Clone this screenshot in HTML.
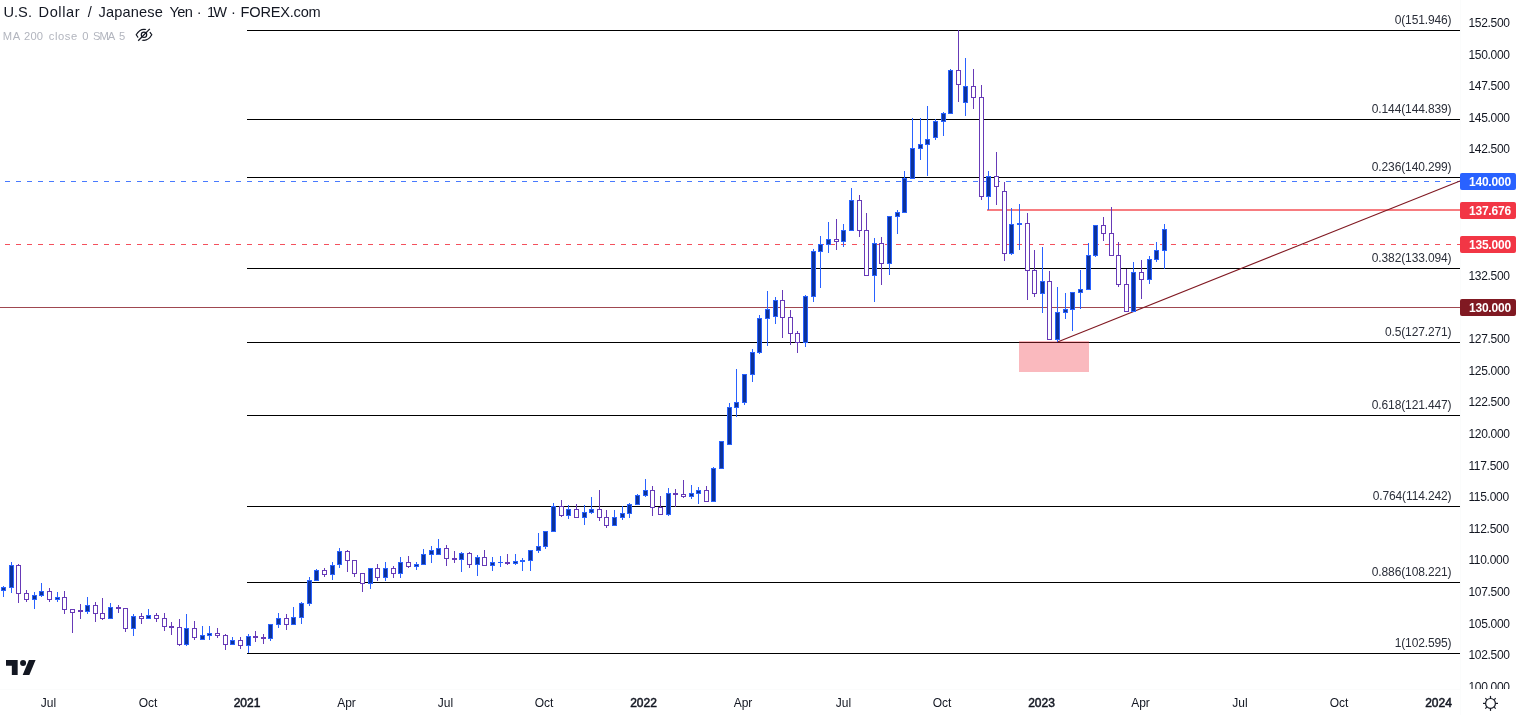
<!DOCTYPE html>
<html lang="en"><head><meta charset="utf-8"><title>USDJPY Weekly</title>
<style>
html,body{margin:0;padding:0;background:#fff;}
body{width:1518px;height:715px;overflow:hidden;position:relative;font-family:"Liberation Sans",sans-serif;}
svg{position:absolute;left:0;top:0;display:block;will-change:transform;}
text{font-family:"Liberation Sans",sans-serif;}
.ax{font-size:12px;fill:#131722;letter-spacing:-0.3px;}
.fb{font-size:12px;fill:#2a2e39;letter-spacing:-0.12px;}
.bx{font-size:12px;fill:#fff;font-weight:bold;letter-spacing:-0.22px;}
.tm{font-size:12px;fill:#131722;}
.tb{font-size:12px;fill:#131722;stroke:#131722;stroke-width:0.5px;}
</style></head><body>
<svg width="1518" height="715" viewBox="0 0 1518 715">
<rect x="0" y="0" width="1518" height="715" fill="#ffffff"/>
<rect x="1460" y="0" width="1" height="715" fill="#fbfcfc"/><rect x="0" y="689" width="1518" height="1" fill="#fbfcfc"/>
<g shape-rendering="crispEdges">
<rect x="247" y="30" width="1213" height="1" fill="#000"/>
<rect x="247" y="119" width="1213" height="1" fill="#000"/>
<rect x="247" y="177" width="1213" height="1" fill="#000"/>
<rect x="247" y="268" width="1213" height="1" fill="#000"/>
<rect x="247" y="342" width="1213" height="1" fill="#000"/>
<rect x="247" y="415" width="1213" height="1" fill="#000"/>
<rect x="247" y="506" width="1213" height="1" fill="#000"/>
<rect x="247" y="582" width="1213" height="1" fill="#000"/>
<rect x="247" y="653" width="1213" height="1" fill="#000"/>
<rect x="5" y="181" width="5" height="1" fill="#487aff"/><rect x="16" y="181" width="5" height="1" fill="#487aff"/><rect x="27" y="181" width="5" height="1" fill="#487aff"/><rect x="38" y="181" width="5" height="1" fill="#487aff"/><rect x="49" y="181" width="5" height="1" fill="#487aff"/><rect x="60" y="181" width="5" height="1" fill="#487aff"/><rect x="71" y="181" width="5" height="1" fill="#487aff"/><rect x="82" y="181" width="5" height="1" fill="#487aff"/><rect x="93" y="181" width="5" height="1" fill="#487aff"/><rect x="104" y="181" width="5" height="1" fill="#487aff"/><rect x="115" y="181" width="5" height="1" fill="#487aff"/><rect x="126" y="181" width="5" height="1" fill="#487aff"/><rect x="137" y="181" width="5" height="1" fill="#487aff"/><rect x="148" y="181" width="5" height="1" fill="#487aff"/><rect x="159" y="181" width="5" height="1" fill="#487aff"/><rect x="170" y="181" width="5" height="1" fill="#487aff"/><rect x="181" y="181" width="5" height="1" fill="#487aff"/><rect x="192" y="181" width="5" height="1" fill="#487aff"/><rect x="203" y="181" width="5" height="1" fill="#487aff"/><rect x="214" y="181" width="5" height="1" fill="#487aff"/><rect x="225" y="181" width="5" height="1" fill="#487aff"/><rect x="236" y="181" width="5" height="1" fill="#487aff"/><rect x="247" y="181" width="5" height="1" fill="#487aff"/><rect x="258" y="181" width="5" height="1" fill="#487aff"/><rect x="269" y="181" width="5" height="1" fill="#487aff"/><rect x="280" y="181" width="5" height="1" fill="#487aff"/><rect x="291" y="181" width="5" height="1" fill="#487aff"/><rect x="302" y="181" width="5" height="1" fill="#487aff"/><rect x="313" y="181" width="5" height="1" fill="#487aff"/><rect x="324" y="181" width="5" height="1" fill="#487aff"/><rect x="335" y="181" width="5" height="1" fill="#487aff"/><rect x="346" y="181" width="5" height="1" fill="#487aff"/><rect x="357" y="181" width="5" height="1" fill="#487aff"/><rect x="368" y="181" width="5" height="1" fill="#487aff"/><rect x="379" y="181" width="5" height="1" fill="#487aff"/><rect x="390" y="181" width="5" height="1" fill="#487aff"/><rect x="401" y="181" width="5" height="1" fill="#487aff"/><rect x="412" y="181" width="5" height="1" fill="#487aff"/><rect x="423" y="181" width="5" height="1" fill="#487aff"/><rect x="434" y="181" width="5" height="1" fill="#487aff"/><rect x="445" y="181" width="5" height="1" fill="#487aff"/><rect x="456" y="181" width="5" height="1" fill="#487aff"/><rect x="467" y="181" width="5" height="1" fill="#487aff"/><rect x="478" y="181" width="5" height="1" fill="#487aff"/><rect x="489" y="181" width="5" height="1" fill="#487aff"/><rect x="500" y="181" width="5" height="1" fill="#487aff"/><rect x="511" y="181" width="5" height="1" fill="#487aff"/><rect x="522" y="181" width="5" height="1" fill="#487aff"/><rect x="533" y="181" width="5" height="1" fill="#487aff"/><rect x="544" y="181" width="5" height="1" fill="#487aff"/><rect x="555" y="181" width="5" height="1" fill="#487aff"/><rect x="566" y="181" width="5" height="1" fill="#487aff"/><rect x="577" y="181" width="5" height="1" fill="#487aff"/><rect x="588" y="181" width="5" height="1" fill="#487aff"/><rect x="599" y="181" width="5" height="1" fill="#487aff"/><rect x="610" y="181" width="5" height="1" fill="#487aff"/><rect x="621" y="181" width="5" height="1" fill="#487aff"/><rect x="632" y="181" width="5" height="1" fill="#487aff"/><rect x="643" y="181" width="5" height="1" fill="#487aff"/><rect x="654" y="181" width="5" height="1" fill="#487aff"/><rect x="665" y="181" width="5" height="1" fill="#487aff"/><rect x="676" y="181" width="5" height="1" fill="#487aff"/><rect x="687" y="181" width="5" height="1" fill="#487aff"/><rect x="698" y="181" width="5" height="1" fill="#487aff"/><rect x="709" y="181" width="5" height="1" fill="#487aff"/><rect x="720" y="181" width="5" height="1" fill="#487aff"/><rect x="731" y="181" width="5" height="1" fill="#487aff"/><rect x="742" y="181" width="5" height="1" fill="#487aff"/><rect x="753" y="181" width="5" height="1" fill="#487aff"/><rect x="764" y="181" width="5" height="1" fill="#487aff"/><rect x="775" y="181" width="5" height="1" fill="#487aff"/><rect x="786" y="181" width="5" height="1" fill="#487aff"/><rect x="797" y="181" width="5" height="1" fill="#487aff"/><rect x="808" y="181" width="5" height="1" fill="#487aff"/><rect x="819" y="181" width="5" height="1" fill="#487aff"/><rect x="830" y="181" width="5" height="1" fill="#487aff"/><rect x="841" y="181" width="5" height="1" fill="#487aff"/><rect x="852" y="181" width="5" height="1" fill="#487aff"/><rect x="863" y="181" width="5" height="1" fill="#487aff"/><rect x="874" y="181" width="5" height="1" fill="#487aff"/><rect x="885" y="181" width="5" height="1" fill="#487aff"/><rect x="896" y="181" width="5" height="1" fill="#487aff"/><rect x="907" y="181" width="5" height="1" fill="#487aff"/><rect x="918" y="181" width="5" height="1" fill="#487aff"/><rect x="929" y="181" width="5" height="1" fill="#487aff"/><rect x="940" y="181" width="5" height="1" fill="#487aff"/><rect x="951" y="181" width="5" height="1" fill="#487aff"/><rect x="962" y="181" width="5" height="1" fill="#487aff"/><rect x="973" y="181" width="5" height="1" fill="#487aff"/><rect x="984" y="181" width="5" height="1" fill="#487aff"/><rect x="995" y="181" width="5" height="1" fill="#487aff"/><rect x="1006" y="181" width="5" height="1" fill="#487aff"/><rect x="1017" y="181" width="5" height="1" fill="#487aff"/><rect x="1028" y="181" width="5" height="1" fill="#487aff"/><rect x="1039" y="181" width="5" height="1" fill="#487aff"/><rect x="1050" y="181" width="5" height="1" fill="#487aff"/><rect x="1061" y="181" width="5" height="1" fill="#487aff"/><rect x="1072" y="181" width="5" height="1" fill="#487aff"/><rect x="1083" y="181" width="5" height="1" fill="#487aff"/><rect x="1094" y="181" width="5" height="1" fill="#487aff"/><rect x="1105" y="181" width="5" height="1" fill="#487aff"/><rect x="1116" y="181" width="5" height="1" fill="#487aff"/><rect x="1127" y="181" width="5" height="1" fill="#487aff"/><rect x="1138" y="181" width="5" height="1" fill="#487aff"/><rect x="1149" y="181" width="5" height="1" fill="#487aff"/><rect x="1160" y="181" width="5" height="1" fill="#487aff"/><rect x="1171" y="181" width="5" height="1" fill="#487aff"/><rect x="1182" y="181" width="5" height="1" fill="#487aff"/><rect x="1193" y="181" width="5" height="1" fill="#487aff"/><rect x="1204" y="181" width="5" height="1" fill="#487aff"/><rect x="1215" y="181" width="5" height="1" fill="#487aff"/><rect x="1226" y="181" width="5" height="1" fill="#487aff"/><rect x="1237" y="181" width="5" height="1" fill="#487aff"/><rect x="1248" y="181" width="5" height="1" fill="#487aff"/><rect x="1259" y="181" width="5" height="1" fill="#487aff"/><rect x="1270" y="181" width="5" height="1" fill="#487aff"/><rect x="1281" y="181" width="5" height="1" fill="#487aff"/><rect x="1292" y="181" width="5" height="1" fill="#487aff"/><rect x="1303" y="181" width="5" height="1" fill="#487aff"/><rect x="1314" y="181" width="5" height="1" fill="#487aff"/><rect x="1325" y="181" width="5" height="1" fill="#487aff"/><rect x="1336" y="181" width="5" height="1" fill="#487aff"/><rect x="1347" y="181" width="5" height="1" fill="#487aff"/><rect x="1358" y="181" width="5" height="1" fill="#487aff"/><rect x="1369" y="181" width="5" height="1" fill="#487aff"/><rect x="1380" y="181" width="5" height="1" fill="#487aff"/><rect x="1391" y="181" width="5" height="1" fill="#487aff"/><rect x="1402" y="181" width="5" height="1" fill="#487aff"/><rect x="1413" y="181" width="5" height="1" fill="#487aff"/><rect x="1424" y="181" width="5" height="1" fill="#487aff"/><rect x="1435" y="181" width="5" height="1" fill="#487aff"/><rect x="1446" y="181" width="5" height="1" fill="#487aff"/><rect x="1457" y="181" width="3" height="1" fill="#487aff"/>
<rect x="5" y="244" width="5" height="1" fill="#f4505d"/><rect x="16" y="244" width="5" height="1" fill="#f4505d"/><rect x="27" y="244" width="5" height="1" fill="#f4505d"/><rect x="38" y="244" width="5" height="1" fill="#f4505d"/><rect x="49" y="244" width="5" height="1" fill="#f4505d"/><rect x="60" y="244" width="5" height="1" fill="#f4505d"/><rect x="71" y="244" width="5" height="1" fill="#f4505d"/><rect x="82" y="244" width="5" height="1" fill="#f4505d"/><rect x="93" y="244" width="5" height="1" fill="#f4505d"/><rect x="104" y="244" width="5" height="1" fill="#f4505d"/><rect x="115" y="244" width="5" height="1" fill="#f4505d"/><rect x="126" y="244" width="5" height="1" fill="#f4505d"/><rect x="137" y="244" width="5" height="1" fill="#f4505d"/><rect x="148" y="244" width="5" height="1" fill="#f4505d"/><rect x="159" y="244" width="5" height="1" fill="#f4505d"/><rect x="170" y="244" width="5" height="1" fill="#f4505d"/><rect x="181" y="244" width="5" height="1" fill="#f4505d"/><rect x="192" y="244" width="5" height="1" fill="#f4505d"/><rect x="203" y="244" width="5" height="1" fill="#f4505d"/><rect x="214" y="244" width="5" height="1" fill="#f4505d"/><rect x="225" y="244" width="5" height="1" fill="#f4505d"/><rect x="236" y="244" width="5" height="1" fill="#f4505d"/><rect x="247" y="244" width="5" height="1" fill="#f4505d"/><rect x="258" y="244" width="5" height="1" fill="#f4505d"/><rect x="269" y="244" width="5" height="1" fill="#f4505d"/><rect x="280" y="244" width="5" height="1" fill="#f4505d"/><rect x="291" y="244" width="5" height="1" fill="#f4505d"/><rect x="302" y="244" width="5" height="1" fill="#f4505d"/><rect x="313" y="244" width="5" height="1" fill="#f4505d"/><rect x="324" y="244" width="5" height="1" fill="#f4505d"/><rect x="335" y="244" width="5" height="1" fill="#f4505d"/><rect x="346" y="244" width="5" height="1" fill="#f4505d"/><rect x="357" y="244" width="5" height="1" fill="#f4505d"/><rect x="368" y="244" width="5" height="1" fill="#f4505d"/><rect x="379" y="244" width="5" height="1" fill="#f4505d"/><rect x="390" y="244" width="5" height="1" fill="#f4505d"/><rect x="401" y="244" width="5" height="1" fill="#f4505d"/><rect x="412" y="244" width="5" height="1" fill="#f4505d"/><rect x="423" y="244" width="5" height="1" fill="#f4505d"/><rect x="434" y="244" width="5" height="1" fill="#f4505d"/><rect x="445" y="244" width="5" height="1" fill="#f4505d"/><rect x="456" y="244" width="5" height="1" fill="#f4505d"/><rect x="467" y="244" width="5" height="1" fill="#f4505d"/><rect x="478" y="244" width="5" height="1" fill="#f4505d"/><rect x="489" y="244" width="5" height="1" fill="#f4505d"/><rect x="500" y="244" width="5" height="1" fill="#f4505d"/><rect x="511" y="244" width="5" height="1" fill="#f4505d"/><rect x="522" y="244" width="5" height="1" fill="#f4505d"/><rect x="533" y="244" width="5" height="1" fill="#f4505d"/><rect x="544" y="244" width="5" height="1" fill="#f4505d"/><rect x="555" y="244" width="5" height="1" fill="#f4505d"/><rect x="566" y="244" width="5" height="1" fill="#f4505d"/><rect x="577" y="244" width="5" height="1" fill="#f4505d"/><rect x="588" y="244" width="5" height="1" fill="#f4505d"/><rect x="599" y="244" width="5" height="1" fill="#f4505d"/><rect x="610" y="244" width="5" height="1" fill="#f4505d"/><rect x="621" y="244" width="5" height="1" fill="#f4505d"/><rect x="632" y="244" width="5" height="1" fill="#f4505d"/><rect x="643" y="244" width="5" height="1" fill="#f4505d"/><rect x="654" y="244" width="5" height="1" fill="#f4505d"/><rect x="665" y="244" width="5" height="1" fill="#f4505d"/><rect x="676" y="244" width="5" height="1" fill="#f4505d"/><rect x="687" y="244" width="5" height="1" fill="#f4505d"/><rect x="698" y="244" width="5" height="1" fill="#f4505d"/><rect x="709" y="244" width="5" height="1" fill="#f4505d"/><rect x="720" y="244" width="5" height="1" fill="#f4505d"/><rect x="731" y="244" width="5" height="1" fill="#f4505d"/><rect x="742" y="244" width="5" height="1" fill="#f4505d"/><rect x="753" y="244" width="5" height="1" fill="#f4505d"/><rect x="764" y="244" width="5" height="1" fill="#f4505d"/><rect x="775" y="244" width="5" height="1" fill="#f4505d"/><rect x="786" y="244" width="5" height="1" fill="#f4505d"/><rect x="797" y="244" width="5" height="1" fill="#f4505d"/><rect x="808" y="244" width="5" height="1" fill="#f4505d"/><rect x="819" y="244" width="5" height="1" fill="#f4505d"/><rect x="830" y="244" width="5" height="1" fill="#f4505d"/><rect x="841" y="244" width="5" height="1" fill="#f4505d"/><rect x="852" y="244" width="5" height="1" fill="#f4505d"/><rect x="863" y="244" width="5" height="1" fill="#f4505d"/><rect x="874" y="244" width="5" height="1" fill="#f4505d"/><rect x="885" y="244" width="5" height="1" fill="#f4505d"/><rect x="896" y="244" width="5" height="1" fill="#f4505d"/><rect x="907" y="244" width="5" height="1" fill="#f4505d"/><rect x="918" y="244" width="5" height="1" fill="#f4505d"/><rect x="929" y="244" width="5" height="1" fill="#f4505d"/><rect x="940" y="244" width="5" height="1" fill="#f4505d"/><rect x="951" y="244" width="5" height="1" fill="#f4505d"/><rect x="962" y="244" width="5" height="1" fill="#f4505d"/><rect x="973" y="244" width="5" height="1" fill="#f4505d"/><rect x="984" y="244" width="5" height="1" fill="#f4505d"/><rect x="995" y="244" width="5" height="1" fill="#f4505d"/><rect x="1006" y="244" width="5" height="1" fill="#f4505d"/><rect x="1017" y="244" width="5" height="1" fill="#f4505d"/><rect x="1028" y="244" width="5" height="1" fill="#f4505d"/><rect x="1039" y="244" width="5" height="1" fill="#f4505d"/><rect x="1050" y="244" width="5" height="1" fill="#f4505d"/><rect x="1061" y="244" width="5" height="1" fill="#f4505d"/><rect x="1072" y="244" width="5" height="1" fill="#f4505d"/><rect x="1083" y="244" width="5" height="1" fill="#f4505d"/><rect x="1094" y="244" width="5" height="1" fill="#f4505d"/><rect x="1105" y="244" width="5" height="1" fill="#f4505d"/><rect x="1116" y="244" width="5" height="1" fill="#f4505d"/><rect x="1127" y="244" width="5" height="1" fill="#f4505d"/><rect x="1138" y="244" width="5" height="1" fill="#f4505d"/><rect x="1149" y="244" width="5" height="1" fill="#f4505d"/><rect x="1160" y="244" width="5" height="1" fill="#f4505d"/><rect x="1171" y="244" width="5" height="1" fill="#f4505d"/><rect x="1182" y="244" width="5" height="1" fill="#f4505d"/><rect x="1193" y="244" width="5" height="1" fill="#f4505d"/><rect x="1204" y="244" width="5" height="1" fill="#f4505d"/><rect x="1215" y="244" width="5" height="1" fill="#f4505d"/><rect x="1226" y="244" width="5" height="1" fill="#f4505d"/><rect x="1237" y="244" width="5" height="1" fill="#f4505d"/><rect x="1248" y="244" width="5" height="1" fill="#f4505d"/><rect x="1259" y="244" width="5" height="1" fill="#f4505d"/><rect x="1270" y="244" width="5" height="1" fill="#f4505d"/><rect x="1281" y="244" width="5" height="1" fill="#f4505d"/><rect x="1292" y="244" width="5" height="1" fill="#f4505d"/><rect x="1303" y="244" width="5" height="1" fill="#f4505d"/><rect x="1314" y="244" width="5" height="1" fill="#f4505d"/><rect x="1325" y="244" width="5" height="1" fill="#f4505d"/><rect x="1336" y="244" width="5" height="1" fill="#f4505d"/><rect x="1347" y="244" width="5" height="1" fill="#f4505d"/><rect x="1358" y="244" width="5" height="1" fill="#f4505d"/><rect x="1369" y="244" width="5" height="1" fill="#f4505d"/><rect x="1380" y="244" width="5" height="1" fill="#f4505d"/><rect x="1391" y="244" width="5" height="1" fill="#f4505d"/><rect x="1402" y="244" width="5" height="1" fill="#f4505d"/><rect x="1413" y="244" width="5" height="1" fill="#f4505d"/><rect x="1424" y="244" width="5" height="1" fill="#f4505d"/><rect x="1435" y="244" width="5" height="1" fill="#f4505d"/><rect x="1446" y="244" width="5" height="1" fill="#f4505d"/><rect x="1457" y="244" width="3" height="1" fill="#f4505d"/>
<rect x="0" y="307" width="1460" height="1" fill="#9f4850"/>
<rect x="987" y="209" width="473" height="2" fill="#f77c80"/>
<rect x="1019" y="341" width="70" height="31" fill="#f23645" fill-opacity="0.35"/>
</g>
<line x1="1057.5" y1="341.9" x2="1460" y2="180.9" stroke="#801922" stroke-width="1.1"/>
<g shape-rendering="crispEdges">
<rect x="3" y="586" width="1" height="1" fill="#2962ff"/>
<rect x="3" y="591" width="1" height="6" fill="#2962ff"/>
<rect x="1" y="587" width="5" height="4" fill="#2962ff"/>
<rect x="2" y="588" width="3" height="2" fill="#0c3299"/>
<rect x="11" y="562" width="1" height="3" fill="#2962ff"/>
<rect x="11" y="588" width="1" height="5" fill="#2962ff"/>
<rect x="9" y="565" width="5" height="23" fill="#2962ff"/>
<rect x="10" y="566" width="3" height="21" fill="#0c3299"/>
<rect x="18" y="564" width="1" height="1" fill="#673ab7"/>
<rect x="18" y="594" width="1" height="9" fill="#673ab7"/>
<rect x="16" y="565" width="5" height="29" fill="#673ab7"/>
<rect x="17" y="566" width="3" height="27" fill="#ffffff"/>
<rect x="26" y="590" width="1" height="3" fill="#673ab7"/>
<rect x="26" y="600" width="1" height="2" fill="#673ab7"/>
<rect x="24" y="593" width="5" height="7" fill="#673ab7"/>
<rect x="25" y="594" width="3" height="5" fill="#ffffff"/>
<rect x="34" y="592" width="1" height="3" fill="#2962ff"/>
<rect x="34" y="600" width="1" height="9" fill="#2962ff"/>
<rect x="32" y="595" width="5" height="5" fill="#2962ff"/>
<rect x="33" y="596" width="3" height="3" fill="#0c3299"/>
<rect x="41" y="583" width="1" height="8" fill="#2962ff"/>
<rect x="41" y="596" width="1" height="1" fill="#2962ff"/>
<rect x="39" y="591" width="5" height="5" fill="#2962ff"/>
<rect x="40" y="592" width="3" height="3" fill="#0c3299"/>
<rect x="49" y="588" width="1" height="3" fill="#673ab7"/>
<rect x="49" y="600" width="1" height="2" fill="#673ab7"/>
<rect x="47" y="591" width="5" height="9" fill="#673ab7"/>
<rect x="48" y="592" width="3" height="7" fill="#ffffff"/>
<rect x="57" y="592" width="1" height="5" fill="#2962ff"/>
<rect x="57" y="600" width="1" height="2" fill="#2962ff"/>
<rect x="55" y="597" width="5" height="3" fill="#2962ff"/>
<rect x="56" y="598" width="3" height="1" fill="#0c3299"/>
<rect x="64" y="591" width="1" height="6" fill="#673ab7"/>
<rect x="64" y="610" width="1" height="4" fill="#673ab7"/>
<rect x="62" y="597" width="5" height="13" fill="#673ab7"/>
<rect x="63" y="598" width="3" height="11" fill="#ffffff"/>
<rect x="72" y="613" width="1" height="20" fill="#673ab7"/>
<rect x="70" y="609" width="5" height="4" fill="#673ab7"/>
<rect x="71" y="610" width="3" height="2" fill="#ffffff"/>
<rect x="80" y="604" width="1" height="6" fill="#673ab7"/>
<rect x="80" y="612" width="1" height="7" fill="#673ab7"/>
<rect x="78" y="610" width="5" height="2" fill="#673ab7"/>
<rect x="87" y="597" width="1" height="8" fill="#2962ff"/>
<rect x="87" y="612" width="1" height="2" fill="#2962ff"/>
<rect x="85" y="605" width="5" height="7" fill="#2962ff"/>
<rect x="86" y="606" width="3" height="5" fill="#0c3299"/>
<rect x="95" y="602" width="1" height="3" fill="#673ab7"/>
<rect x="95" y="614" width="1" height="8" fill="#673ab7"/>
<rect x="93" y="605" width="5" height="9" fill="#673ab7"/>
<rect x="94" y="606" width="3" height="7" fill="#ffffff"/>
<rect x="102" y="598" width="1" height="15" fill="#673ab7"/>
<rect x="102" y="619" width="1" height="1" fill="#673ab7"/>
<rect x="100" y="613" width="5" height="6" fill="#673ab7"/>
<rect x="101" y="614" width="3" height="4" fill="#ffffff"/>
<rect x="110" y="603" width="1" height="4" fill="#2962ff"/>
<rect x="108" y="607" width="5" height="12" fill="#2962ff"/>
<rect x="109" y="608" width="3" height="10" fill="#0c3299"/>
<rect x="118" y="605" width="1" height="2" fill="#673ab7"/>
<rect x="118" y="609" width="1" height="4" fill="#673ab7"/>
<rect x="116" y="607" width="5" height="2" fill="#673ab7"/>
<rect x="125" y="629" width="1" height="3" fill="#673ab7"/>
<rect x="123" y="608" width="5" height="21" fill="#673ab7"/>
<rect x="124" y="609" width="3" height="19" fill="#ffffff"/>
<rect x="133" y="614" width="1" height="2" fill="#2962ff"/>
<rect x="133" y="629" width="1" height="7" fill="#2962ff"/>
<rect x="131" y="616" width="5" height="13" fill="#2962ff"/>
<rect x="132" y="617" width="3" height="11" fill="#0c3299"/>
<rect x="141" y="613" width="1" height="3" fill="#673ab7"/>
<rect x="141" y="619" width="1" height="5" fill="#673ab7"/>
<rect x="139" y="616" width="5" height="3" fill="#673ab7"/>
<rect x="140" y="617" width="3" height="1" fill="#ffffff"/>
<rect x="148" y="609" width="1" height="6" fill="#2962ff"/>
<rect x="146" y="615" width="5" height="4" fill="#2962ff"/>
<rect x="147" y="616" width="3" height="2" fill="#0c3299"/>
<rect x="156" y="613" width="1" height="2" fill="#673ab7"/>
<rect x="156" y="619" width="1" height="3" fill="#673ab7"/>
<rect x="154" y="615" width="5" height="4" fill="#673ab7"/>
<rect x="155" y="616" width="3" height="2" fill="#ffffff"/>
<rect x="164" y="613" width="1" height="5" fill="#673ab7"/>
<rect x="164" y="627" width="1" height="4" fill="#673ab7"/>
<rect x="162" y="618" width="5" height="9" fill="#673ab7"/>
<rect x="163" y="619" width="3" height="7" fill="#ffffff"/>
<rect x="171" y="622" width="1" height="4" fill="#673ab7"/>
<rect x="171" y="628" width="1" height="7" fill="#673ab7"/>
<rect x="169" y="626" width="5" height="2" fill="#673ab7"/>
<rect x="179" y="619" width="1" height="8" fill="#673ab7"/>
<rect x="179" y="645" width="1" height="1" fill="#673ab7"/>
<rect x="177" y="627" width="5" height="18" fill="#673ab7"/>
<rect x="178" y="628" width="3" height="16" fill="#ffffff"/>
<rect x="186" y="614" width="1" height="14" fill="#2962ff"/>
<rect x="186" y="645" width="1" height="1" fill="#2962ff"/>
<rect x="184" y="628" width="5" height="17" fill="#2962ff"/>
<rect x="185" y="629" width="3" height="15" fill="#0c3299"/>
<rect x="194" y="621" width="1" height="7" fill="#673ab7"/>
<rect x="194" y="638" width="1" height="2" fill="#673ab7"/>
<rect x="192" y="628" width="5" height="10" fill="#673ab7"/>
<rect x="193" y="629" width="3" height="8" fill="#ffffff"/>
<rect x="202" y="626" width="1" height="9" fill="#2962ff"/>
<rect x="200" y="635" width="5" height="5" fill="#2962ff"/>
<rect x="201" y="636" width="3" height="3" fill="#0c3299"/>
<rect x="209" y="626" width="1" height="7" fill="#2962ff"/>
<rect x="209" y="636" width="1" height="4" fill="#2962ff"/>
<rect x="207" y="633" width="5" height="3" fill="#2962ff"/>
<rect x="208" y="634" width="3" height="1" fill="#0c3299"/>
<rect x="217" y="628" width="1" height="5" fill="#673ab7"/>
<rect x="217" y="636" width="1" height="2" fill="#673ab7"/>
<rect x="215" y="633" width="5" height="3" fill="#673ab7"/>
<rect x="216" y="634" width="3" height="1" fill="#ffffff"/>
<rect x="225" y="634" width="1" height="1" fill="#673ab7"/>
<rect x="225" y="645" width="1" height="5" fill="#673ab7"/>
<rect x="223" y="635" width="5" height="10" fill="#673ab7"/>
<rect x="224" y="636" width="3" height="8" fill="#ffffff"/>
<rect x="232" y="637" width="1" height="3" fill="#2962ff"/>
<rect x="230" y="640" width="5" height="5" fill="#2962ff"/>
<rect x="231" y="641" width="3" height="3" fill="#0c3299"/>
<rect x="240" y="637" width="1" height="3" fill="#673ab7"/>
<rect x="240" y="646" width="1" height="3" fill="#673ab7"/>
<rect x="238" y="640" width="5" height="6" fill="#673ab7"/>
<rect x="239" y="641" width="3" height="4" fill="#ffffff"/>
<rect x="248" y="634" width="1" height="2" fill="#2962ff"/>
<rect x="248" y="646" width="1" height="7" fill="#2962ff"/>
<rect x="246" y="636" width="5" height="10" fill="#2962ff"/>
<rect x="247" y="637" width="3" height="8" fill="#0c3299"/>
<rect x="255" y="631" width="1" height="5" fill="#673ab7"/>
<rect x="255" y="638" width="1" height="4" fill="#673ab7"/>
<rect x="253" y="636" width="5" height="2" fill="#673ab7"/>
<rect x="263" y="634" width="1" height="3" fill="#673ab7"/>
<rect x="263" y="639" width="1" height="5" fill="#673ab7"/>
<rect x="261" y="637" width="5" height="2" fill="#673ab7"/>
<rect x="270" y="639" width="1" height="2" fill="#2962ff"/>
<rect x="268" y="624" width="5" height="15" fill="#2962ff"/>
<rect x="269" y="625" width="3" height="13" fill="#0c3299"/>
<rect x="278" y="613" width="1" height="5" fill="#2962ff"/>
<rect x="278" y="625" width="1" height="3" fill="#2962ff"/>
<rect x="276" y="618" width="5" height="7" fill="#2962ff"/>
<rect x="277" y="619" width="3" height="5" fill="#0c3299"/>
<rect x="286" y="614" width="1" height="4" fill="#673ab7"/>
<rect x="286" y="625" width="1" height="5" fill="#673ab7"/>
<rect x="284" y="618" width="5" height="7" fill="#673ab7"/>
<rect x="285" y="619" width="3" height="5" fill="#ffffff"/>
<rect x="293" y="607" width="1" height="10" fill="#2962ff"/>
<rect x="291" y="617" width="5" height="8" fill="#2962ff"/>
<rect x="292" y="618" width="3" height="6" fill="#0c3299"/>
<rect x="301" y="602" width="1" height="1" fill="#2962ff"/>
<rect x="301" y="618" width="1" height="6" fill="#2962ff"/>
<rect x="299" y="603" width="5" height="15" fill="#2962ff"/>
<rect x="300" y="604" width="3" height="13" fill="#0c3299"/>
<rect x="309" y="577" width="1" height="3" fill="#2962ff"/>
<rect x="309" y="604" width="1" height="2" fill="#2962ff"/>
<rect x="307" y="580" width="5" height="24" fill="#2962ff"/>
<rect x="308" y="581" width="3" height="22" fill="#0c3299"/>
<rect x="316" y="569" width="1" height="1" fill="#2962ff"/>
<rect x="314" y="570" width="5" height="11" fill="#2962ff"/>
<rect x="315" y="571" width="3" height="9" fill="#0c3299"/>
<rect x="324" y="568" width="1" height="2" fill="#673ab7"/>
<rect x="324" y="575" width="1" height="2" fill="#673ab7"/>
<rect x="322" y="570" width="5" height="5" fill="#673ab7"/>
<rect x="323" y="571" width="3" height="3" fill="#ffffff"/>
<rect x="332" y="562" width="1" height="3" fill="#2962ff"/>
<rect x="332" y="575" width="1" height="5" fill="#2962ff"/>
<rect x="330" y="565" width="5" height="10" fill="#2962ff"/>
<rect x="331" y="566" width="3" height="8" fill="#0c3299"/>
<rect x="339" y="548" width="1" height="3" fill="#2962ff"/>
<rect x="339" y="565" width="1" height="3" fill="#2962ff"/>
<rect x="337" y="551" width="5" height="14" fill="#2962ff"/>
<rect x="338" y="552" width="3" height="12" fill="#0c3299"/>
<rect x="347" y="550" width="1" height="1" fill="#673ab7"/>
<rect x="347" y="561" width="1" height="11" fill="#673ab7"/>
<rect x="345" y="551" width="5" height="10" fill="#673ab7"/>
<rect x="346" y="552" width="3" height="8" fill="#ffffff"/>
<rect x="354" y="574" width="1" height="3" fill="#673ab7"/>
<rect x="352" y="560" width="5" height="14" fill="#673ab7"/>
<rect x="353" y="561" width="3" height="12" fill="#ffffff"/>
<rect x="362" y="584" width="1" height="8" fill="#673ab7"/>
<rect x="360" y="573" width="5" height="11" fill="#673ab7"/>
<rect x="361" y="574" width="3" height="9" fill="#ffffff"/>
<rect x="370" y="584" width="1" height="5" fill="#2962ff"/>
<rect x="368" y="568" width="5" height="16" fill="#2962ff"/>
<rect x="369" y="569" width="3" height="14" fill="#0c3299"/>
<rect x="377" y="564" width="1" height="4" fill="#673ab7"/>
<rect x="377" y="578" width="1" height="3" fill="#673ab7"/>
<rect x="375" y="568" width="5" height="10" fill="#673ab7"/>
<rect x="376" y="569" width="3" height="8" fill="#ffffff"/>
<rect x="385" y="562" width="1" height="6" fill="#2962ff"/>
<rect x="385" y="578" width="1" height="3" fill="#2962ff"/>
<rect x="383" y="568" width="5" height="10" fill="#2962ff"/>
<rect x="384" y="569" width="3" height="8" fill="#0c3299"/>
<rect x="393" y="566" width="1" height="2" fill="#673ab7"/>
<rect x="393" y="574" width="1" height="4" fill="#673ab7"/>
<rect x="391" y="568" width="5" height="6" fill="#673ab7"/>
<rect x="392" y="569" width="3" height="4" fill="#ffffff"/>
<rect x="400" y="557" width="1" height="5" fill="#2962ff"/>
<rect x="400" y="574" width="1" height="4" fill="#2962ff"/>
<rect x="398" y="562" width="5" height="12" fill="#2962ff"/>
<rect x="399" y="563" width="3" height="10" fill="#0c3299"/>
<rect x="408" y="556" width="1" height="6" fill="#673ab7"/>
<rect x="408" y="567" width="1" height="1" fill="#673ab7"/>
<rect x="406" y="562" width="5" height="5" fill="#673ab7"/>
<rect x="407" y="563" width="3" height="3" fill="#ffffff"/>
<rect x="416" y="562" width="1" height="2" fill="#2962ff"/>
<rect x="416" y="567" width="1" height="3" fill="#2962ff"/>
<rect x="414" y="564" width="5" height="3" fill="#2962ff"/>
<rect x="415" y="565" width="3" height="1" fill="#0c3299"/>
<rect x="423" y="549" width="1" height="5" fill="#2962ff"/>
<rect x="421" y="554" width="5" height="11" fill="#2962ff"/>
<rect x="422" y="555" width="3" height="9" fill="#0c3299"/>
<rect x="431" y="546" width="1" height="4" fill="#2962ff"/>
<rect x="431" y="555" width="1" height="8" fill="#2962ff"/>
<rect x="429" y="550" width="5" height="5" fill="#2962ff"/>
<rect x="430" y="551" width="3" height="3" fill="#0c3299"/>
<rect x="438" y="539" width="1" height="9" fill="#2962ff"/>
<rect x="436" y="548" width="5" height="7" fill="#2962ff"/>
<rect x="437" y="549" width="3" height="5" fill="#0c3299"/>
<rect x="446" y="545" width="1" height="3" fill="#673ab7"/>
<rect x="446" y="559" width="1" height="7" fill="#673ab7"/>
<rect x="444" y="548" width="5" height="11" fill="#673ab7"/>
<rect x="445" y="549" width="3" height="9" fill="#ffffff"/>
<rect x="454" y="551" width="1" height="7" fill="#673ab7"/>
<rect x="454" y="560" width="1" height="3" fill="#673ab7"/>
<rect x="452" y="558" width="5" height="2" fill="#673ab7"/>
<rect x="461" y="552" width="1" height="1" fill="#2962ff"/>
<rect x="461" y="560" width="1" height="12" fill="#2962ff"/>
<rect x="459" y="553" width="5" height="7" fill="#2962ff"/>
<rect x="460" y="554" width="3" height="5" fill="#0c3299"/>
<rect x="469" y="552" width="1" height="1" fill="#673ab7"/>
<rect x="469" y="565" width="1" height="3" fill="#673ab7"/>
<rect x="467" y="553" width="5" height="12" fill="#673ab7"/>
<rect x="468" y="554" width="3" height="10" fill="#ffffff"/>
<rect x="477" y="555" width="1" height="2" fill="#2962ff"/>
<rect x="477" y="565" width="1" height="11" fill="#2962ff"/>
<rect x="475" y="557" width="5" height="8" fill="#2962ff"/>
<rect x="476" y="558" width="3" height="6" fill="#0c3299"/>
<rect x="484" y="550" width="1" height="7" fill="#673ab7"/>
<rect x="482" y="557" width="5" height="9" fill="#673ab7"/>
<rect x="483" y="558" width="3" height="7" fill="#ffffff"/>
<rect x="492" y="557" width="1" height="5" fill="#2962ff"/>
<rect x="492" y="566" width="1" height="5" fill="#2962ff"/>
<rect x="490" y="562" width="5" height="4" fill="#2962ff"/>
<rect x="491" y="563" width="3" height="2" fill="#0c3299"/>
<rect x="500" y="556" width="1" height="6" fill="#2962ff"/>
<rect x="500" y="563" width="1" height="4" fill="#2962ff"/>
<rect x="498" y="562" width="5" height="1" fill="#2962ff"/>
<rect x="507" y="554" width="1" height="8" fill="#673ab7"/>
<rect x="507" y="564" width="1" height="1" fill="#673ab7"/>
<rect x="505" y="562" width="5" height="2" fill="#673ab7"/>
<rect x="515" y="554" width="1" height="7" fill="#2962ff"/>
<rect x="515" y="564" width="1" height="1" fill="#2962ff"/>
<rect x="513" y="561" width="5" height="3" fill="#2962ff"/>
<rect x="514" y="562" width="3" height="1" fill="#0c3299"/>
<rect x="522" y="558" width="1" height="2" fill="#2962ff"/>
<rect x="522" y="562" width="1" height="9" fill="#2962ff"/>
<rect x="520" y="560" width="5" height="2" fill="#2962ff"/>
<rect x="530" y="561" width="1" height="10" fill="#2962ff"/>
<rect x="528" y="550" width="5" height="11" fill="#2962ff"/>
<rect x="529" y="551" width="3" height="9" fill="#0c3299"/>
<rect x="538" y="533" width="1" height="13" fill="#2962ff"/>
<rect x="538" y="551" width="1" height="2" fill="#2962ff"/>
<rect x="536" y="546" width="5" height="5" fill="#2962ff"/>
<rect x="537" y="547" width="3" height="3" fill="#0c3299"/>
<rect x="545" y="547" width="1" height="2" fill="#2962ff"/>
<rect x="543" y="531" width="5" height="16" fill="#2962ff"/>
<rect x="544" y="532" width="3" height="14" fill="#0c3299"/>
<rect x="553" y="503" width="1" height="3" fill="#2962ff"/>
<rect x="551" y="506" width="5" height="26" fill="#2962ff"/>
<rect x="552" y="507" width="3" height="24" fill="#0c3299"/>
<rect x="561" y="500" width="1" height="6" fill="#673ab7"/>
<rect x="561" y="516" width="1" height="1" fill="#673ab7"/>
<rect x="559" y="506" width="5" height="10" fill="#673ab7"/>
<rect x="560" y="507" width="3" height="8" fill="#ffffff"/>
<rect x="568" y="505" width="1" height="4" fill="#2962ff"/>
<rect x="568" y="516" width="1" height="3" fill="#2962ff"/>
<rect x="566" y="509" width="5" height="7" fill="#2962ff"/>
<rect x="567" y="510" width="3" height="5" fill="#0c3299"/>
<rect x="576" y="504" width="1" height="5" fill="#673ab7"/>
<rect x="574" y="509" width="5" height="9" fill="#673ab7"/>
<rect x="575" y="510" width="3" height="7" fill="#ffffff"/>
<rect x="584" y="505" width="1" height="7" fill="#2962ff"/>
<rect x="584" y="518" width="1" height="7" fill="#2962ff"/>
<rect x="582" y="512" width="5" height="6" fill="#2962ff"/>
<rect x="583" y="513" width="3" height="4" fill="#0c3299"/>
<rect x="591" y="497" width="1" height="12" fill="#2962ff"/>
<rect x="591" y="513" width="1" height="1" fill="#2962ff"/>
<rect x="589" y="509" width="5" height="4" fill="#2962ff"/>
<rect x="590" y="510" width="3" height="2" fill="#0c3299"/>
<rect x="599" y="490" width="1" height="19" fill="#673ab7"/>
<rect x="599" y="518" width="1" height="3" fill="#673ab7"/>
<rect x="597" y="509" width="5" height="9" fill="#673ab7"/>
<rect x="598" y="510" width="3" height="7" fill="#ffffff"/>
<rect x="606" y="510" width="1" height="7" fill="#673ab7"/>
<rect x="606" y="526" width="1" height="2" fill="#673ab7"/>
<rect x="604" y="517" width="5" height="9" fill="#673ab7"/>
<rect x="605" y="518" width="3" height="7" fill="#ffffff"/>
<rect x="614" y="510" width="1" height="7" fill="#2962ff"/>
<rect x="612" y="517" width="5" height="9" fill="#2962ff"/>
<rect x="613" y="518" width="3" height="7" fill="#0c3299"/>
<rect x="622" y="506" width="1" height="7" fill="#2962ff"/>
<rect x="622" y="518" width="1" height="2" fill="#2962ff"/>
<rect x="620" y="513" width="5" height="5" fill="#2962ff"/>
<rect x="621" y="514" width="3" height="3" fill="#0c3299"/>
<rect x="629" y="503" width="1" height="1" fill="#2962ff"/>
<rect x="629" y="514" width="1" height="4" fill="#2962ff"/>
<rect x="627" y="504" width="5" height="10" fill="#2962ff"/>
<rect x="628" y="505" width="3" height="8" fill="#0c3299"/>
<rect x="637" y="494" width="1" height="1" fill="#2962ff"/>
<rect x="635" y="495" width="5" height="10" fill="#2962ff"/>
<rect x="636" y="496" width="3" height="8" fill="#0c3299"/>
<rect x="645" y="479" width="1" height="11" fill="#2962ff"/>
<rect x="645" y="496" width="1" height="1" fill="#2962ff"/>
<rect x="643" y="490" width="5" height="6" fill="#2962ff"/>
<rect x="644" y="491" width="3" height="4" fill="#0c3299"/>
<rect x="652" y="486" width="1" height="4" fill="#673ab7"/>
<rect x="652" y="508" width="1" height="8" fill="#673ab7"/>
<rect x="650" y="490" width="5" height="18" fill="#673ab7"/>
<rect x="651" y="491" width="3" height="16" fill="#ffffff"/>
<rect x="660" y="496" width="1" height="11" fill="#673ab7"/>
<rect x="658" y="507" width="5" height="8" fill="#673ab7"/>
<rect x="659" y="508" width="3" height="6" fill="#ffffff"/>
<rect x="668" y="488" width="1" height="5" fill="#2962ff"/>
<rect x="668" y="515" width="1" height="1" fill="#2962ff"/>
<rect x="666" y="493" width="5" height="22" fill="#2962ff"/>
<rect x="667" y="494" width="3" height="20" fill="#0c3299"/>
<rect x="675" y="489" width="1" height="4" fill="#673ab7"/>
<rect x="675" y="495" width="1" height="12" fill="#673ab7"/>
<rect x="673" y="493" width="5" height="2" fill="#673ab7"/>
<rect x="683" y="480" width="1" height="14" fill="#673ab7"/>
<rect x="683" y="497" width="1" height="1" fill="#673ab7"/>
<rect x="681" y="494" width="5" height="3" fill="#673ab7"/>
<rect x="682" y="495" width="3" height="1" fill="#ffffff"/>
<rect x="691" y="485" width="1" height="8" fill="#2962ff"/>
<rect x="691" y="497" width="1" height="2" fill="#2962ff"/>
<rect x="689" y="493" width="5" height="4" fill="#2962ff"/>
<rect x="690" y="494" width="3" height="2" fill="#0c3299"/>
<rect x="698" y="487" width="1" height="3" fill="#2962ff"/>
<rect x="698" y="494" width="1" height="10" fill="#2962ff"/>
<rect x="696" y="490" width="5" height="4" fill="#2962ff"/>
<rect x="697" y="491" width="3" height="2" fill="#0c3299"/>
<rect x="706" y="486" width="1" height="4" fill="#673ab7"/>
<rect x="704" y="490" width="5" height="12" fill="#673ab7"/>
<rect x="705" y="491" width="3" height="10" fill="#ffffff"/>
<rect x="713" y="467" width="1" height="1" fill="#2962ff"/>
<rect x="711" y="468" width="5" height="34" fill="#2962ff"/>
<rect x="712" y="469" width="3" height="32" fill="#0c3299"/>
<rect x="719" y="441" width="5" height="28" fill="#2962ff"/>
<rect x="720" y="442" width="3" height="26" fill="#0c3299"/>
<rect x="729" y="403" width="1" height="4" fill="#2962ff"/>
<rect x="727" y="407" width="5" height="38" fill="#2962ff"/>
<rect x="728" y="408" width="3" height="36" fill="#0c3299"/>
<rect x="736" y="369" width="1" height="33" fill="#2962ff"/>
<rect x="736" y="408" width="1" height="9" fill="#2962ff"/>
<rect x="734" y="402" width="5" height="6" fill="#2962ff"/>
<rect x="735" y="403" width="3" height="4" fill="#0c3299"/>
<rect x="744" y="403" width="1" height="2" fill="#2962ff"/>
<rect x="742" y="374" width="5" height="29" fill="#2962ff"/>
<rect x="743" y="375" width="3" height="27" fill="#0c3299"/>
<rect x="752" y="349" width="1" height="3" fill="#2962ff"/>
<rect x="752" y="375" width="1" height="7" fill="#2962ff"/>
<rect x="750" y="352" width="5" height="23" fill="#2962ff"/>
<rect x="751" y="353" width="3" height="21" fill="#0c3299"/>
<rect x="759" y="315" width="1" height="3" fill="#2962ff"/>
<rect x="759" y="353" width="1" height="1" fill="#2962ff"/>
<rect x="757" y="318" width="5" height="35" fill="#2962ff"/>
<rect x="758" y="319" width="3" height="33" fill="#0c3299"/>
<rect x="767" y="291" width="1" height="18" fill="#2962ff"/>
<rect x="767" y="319" width="1" height="27" fill="#2962ff"/>
<rect x="765" y="309" width="5" height="10" fill="#2962ff"/>
<rect x="766" y="310" width="3" height="8" fill="#0c3299"/>
<rect x="775" y="297" width="1" height="3" fill="#2962ff"/>
<rect x="775" y="317" width="1" height="7" fill="#2962ff"/>
<rect x="773" y="300" width="5" height="17" fill="#2962ff"/>
<rect x="774" y="301" width="3" height="15" fill="#0c3299"/>
<rect x="782" y="290" width="1" height="10" fill="#673ab7"/>
<rect x="782" y="318" width="1" height="20" fill="#673ab7"/>
<rect x="780" y="300" width="5" height="18" fill="#673ab7"/>
<rect x="781" y="301" width="3" height="16" fill="#ffffff"/>
<rect x="790" y="310" width="1" height="7" fill="#673ab7"/>
<rect x="790" y="334" width="1" height="11" fill="#673ab7"/>
<rect x="788" y="317" width="5" height="17" fill="#673ab7"/>
<rect x="789" y="318" width="3" height="15" fill="#ffffff"/>
<rect x="797" y="331" width="1" height="2" fill="#673ab7"/>
<rect x="797" y="343" width="1" height="10" fill="#673ab7"/>
<rect x="795" y="333" width="5" height="10" fill="#673ab7"/>
<rect x="796" y="334" width="3" height="8" fill="#ffffff"/>
<rect x="805" y="295" width="1" height="1" fill="#2962ff"/>
<rect x="805" y="343" width="1" height="4" fill="#2962ff"/>
<rect x="803" y="296" width="5" height="47" fill="#2962ff"/>
<rect x="804" y="297" width="3" height="45" fill="#0c3299"/>
<rect x="813" y="249" width="1" height="2" fill="#2962ff"/>
<rect x="813" y="297" width="1" height="5" fill="#2962ff"/>
<rect x="811" y="251" width="5" height="46" fill="#2962ff"/>
<rect x="812" y="252" width="3" height="44" fill="#0c3299"/>
<rect x="820" y="236" width="1" height="8" fill="#2962ff"/>
<rect x="820" y="252" width="1" height="36" fill="#2962ff"/>
<rect x="818" y="244" width="5" height="8" fill="#2962ff"/>
<rect x="819" y="245" width="3" height="6" fill="#0c3299"/>
<rect x="828" y="222" width="1" height="17" fill="#2962ff"/>
<rect x="828" y="245" width="1" height="8" fill="#2962ff"/>
<rect x="826" y="239" width="5" height="6" fill="#2962ff"/>
<rect x="827" y="240" width="3" height="4" fill="#0c3299"/>
<rect x="836" y="219" width="1" height="20" fill="#673ab7"/>
<rect x="836" y="242" width="1" height="8" fill="#673ab7"/>
<rect x="834" y="239" width="5" height="3" fill="#673ab7"/>
<rect x="835" y="240" width="3" height="1" fill="#ffffff"/>
<rect x="843" y="224" width="1" height="6" fill="#2962ff"/>
<rect x="843" y="242" width="1" height="5" fill="#2962ff"/>
<rect x="841" y="230" width="5" height="12" fill="#2962ff"/>
<rect x="842" y="231" width="3" height="10" fill="#0c3299"/>
<rect x="851" y="188" width="1" height="12" fill="#2962ff"/>
<rect x="849" y="200" width="5" height="31" fill="#2962ff"/>
<rect x="850" y="201" width="3" height="29" fill="#0c3299"/>
<rect x="859" y="195" width="1" height="5" fill="#673ab7"/>
<rect x="859" y="231" width="1" height="6" fill="#673ab7"/>
<rect x="857" y="200" width="5" height="31" fill="#673ab7"/>
<rect x="858" y="201" width="3" height="29" fill="#ffffff"/>
<rect x="866" y="213" width="1" height="17" fill="#673ab7"/>
<rect x="864" y="230" width="5" height="46" fill="#673ab7"/>
<rect x="865" y="231" width="3" height="44" fill="#ffffff"/>
<rect x="874" y="238" width="1" height="5" fill="#2962ff"/>
<rect x="874" y="276" width="1" height="26" fill="#2962ff"/>
<rect x="872" y="243" width="5" height="33" fill="#2962ff"/>
<rect x="873" y="244" width="3" height="31" fill="#0c3299"/>
<rect x="881" y="237" width="1" height="6" fill="#673ab7"/>
<rect x="881" y="264" width="1" height="21" fill="#673ab7"/>
<rect x="879" y="243" width="5" height="21" fill="#673ab7"/>
<rect x="880" y="244" width="3" height="19" fill="#ffffff"/>
<rect x="889" y="264" width="1" height="11" fill="#2962ff"/>
<rect x="887" y="216" width="5" height="48" fill="#2962ff"/>
<rect x="888" y="217" width="3" height="46" fill="#0c3299"/>
<rect x="897" y="210" width="1" height="2" fill="#2962ff"/>
<rect x="897" y="217" width="1" height="17" fill="#2962ff"/>
<rect x="895" y="212" width="5" height="5" fill="#2962ff"/>
<rect x="896" y="213" width="3" height="3" fill="#0c3299"/>
<rect x="904" y="171" width="1" height="7" fill="#2962ff"/>
<rect x="902" y="178" width="5" height="35" fill="#2962ff"/>
<rect x="903" y="179" width="3" height="33" fill="#0c3299"/>
<rect x="912" y="118" width="1" height="30" fill="#2962ff"/>
<rect x="910" y="148" width="5" height="31" fill="#2962ff"/>
<rect x="911" y="149" width="3" height="29" fill="#0c3299"/>
<rect x="920" y="118" width="1" height="26" fill="#2962ff"/>
<rect x="920" y="149" width="1" height="11" fill="#2962ff"/>
<rect x="918" y="144" width="5" height="5" fill="#2962ff"/>
<rect x="919" y="145" width="3" height="3" fill="#0c3299"/>
<rect x="927" y="106" width="1" height="33" fill="#2962ff"/>
<rect x="927" y="145" width="1" height="31" fill="#2962ff"/>
<rect x="925" y="139" width="5" height="6" fill="#2962ff"/>
<rect x="926" y="140" width="3" height="4" fill="#0c3299"/>
<rect x="935" y="119" width="1" height="2" fill="#2962ff"/>
<rect x="935" y="138" width="1" height="2" fill="#2962ff"/>
<rect x="933" y="121" width="5" height="17" fill="#2962ff"/>
<rect x="934" y="122" width="3" height="15" fill="#0c3299"/>
<rect x="943" y="112" width="1" height="1" fill="#2962ff"/>
<rect x="943" y="122" width="1" height="14" fill="#2962ff"/>
<rect x="941" y="113" width="5" height="9" fill="#2962ff"/>
<rect x="942" y="114" width="3" height="7" fill="#0c3299"/>
<rect x="950" y="69" width="1" height="1" fill="#2962ff"/>
<rect x="948" y="70" width="5" height="44" fill="#2962ff"/>
<rect x="949" y="71" width="3" height="42" fill="#0c3299"/>
<rect x="958" y="30" width="1" height="40" fill="#673ab7"/>
<rect x="958" y="85" width="1" height="17" fill="#673ab7"/>
<rect x="956" y="70" width="5" height="15" fill="#673ab7"/>
<rect x="957" y="71" width="3" height="13" fill="#ffffff"/>
<rect x="965" y="58" width="1" height="28" fill="#2962ff"/>
<rect x="965" y="103" width="1" height="13" fill="#2962ff"/>
<rect x="963" y="86" width="5" height="17" fill="#2962ff"/>
<rect x="964" y="87" width="3" height="15" fill="#0c3299"/>
<rect x="973" y="69" width="1" height="17" fill="#673ab7"/>
<rect x="973" y="98" width="1" height="11" fill="#673ab7"/>
<rect x="971" y="86" width="5" height="12" fill="#673ab7"/>
<rect x="972" y="87" width="3" height="10" fill="#ffffff"/>
<rect x="981" y="85" width="1" height="12" fill="#673ab7"/>
<rect x="981" y="197" width="1" height="3" fill="#673ab7"/>
<rect x="979" y="97" width="5" height="100" fill="#673ab7"/>
<rect x="980" y="98" width="3" height="98" fill="#ffffff"/>
<rect x="988" y="171" width="1" height="5" fill="#2962ff"/>
<rect x="988" y="197" width="1" height="13" fill="#2962ff"/>
<rect x="986" y="176" width="5" height="21" fill="#2962ff"/>
<rect x="987" y="177" width="3" height="19" fill="#0c3299"/>
<rect x="996" y="152" width="1" height="24" fill="#673ab7"/>
<rect x="996" y="187" width="1" height="18" fill="#673ab7"/>
<rect x="994" y="176" width="5" height="11" fill="#673ab7"/>
<rect x="995" y="177" width="3" height="9" fill="#ffffff"/>
<rect x="1004" y="182" width="1" height="9" fill="#673ab7"/>
<rect x="1004" y="254" width="1" height="7" fill="#673ab7"/>
<rect x="1002" y="191" width="5" height="63" fill="#673ab7"/>
<rect x="1003" y="192" width="3" height="61" fill="#ffffff"/>
<rect x="1011" y="208" width="1" height="16" fill="#2962ff"/>
<rect x="1011" y="254" width="1" height="1" fill="#2962ff"/>
<rect x="1009" y="224" width="5" height="30" fill="#2962ff"/>
<rect x="1010" y="225" width="3" height="28" fill="#0c3299"/>
<rect x="1019" y="204" width="1" height="19" fill="#2962ff"/>
<rect x="1019" y="225" width="1" height="25" fill="#2962ff"/>
<rect x="1017" y="223" width="5" height="2" fill="#2962ff"/>
<rect x="1027" y="213" width="1" height="10" fill="#673ab7"/>
<rect x="1027" y="271" width="1" height="29" fill="#673ab7"/>
<rect x="1025" y="223" width="5" height="48" fill="#673ab7"/>
<rect x="1026" y="224" width="3" height="46" fill="#ffffff"/>
<rect x="1034" y="250" width="1" height="20" fill="#673ab7"/>
<rect x="1034" y="294" width="1" height="3" fill="#673ab7"/>
<rect x="1032" y="270" width="5" height="24" fill="#673ab7"/>
<rect x="1033" y="271" width="3" height="22" fill="#ffffff"/>
<rect x="1042" y="247" width="1" height="34" fill="#2962ff"/>
<rect x="1042" y="294" width="1" height="19" fill="#2962ff"/>
<rect x="1040" y="281" width="5" height="13" fill="#2962ff"/>
<rect x="1041" y="282" width="3" height="11" fill="#0c3299"/>
<rect x="1049" y="271" width="1" height="10" fill="#673ab7"/>
<rect x="1047" y="281" width="5" height="59" fill="#673ab7"/>
<rect x="1048" y="282" width="3" height="57" fill="#ffffff"/>
<rect x="1057" y="287" width="1" height="25" fill="#2962ff"/>
<rect x="1057" y="340" width="1" height="2" fill="#2962ff"/>
<rect x="1055" y="312" width="5" height="28" fill="#2962ff"/>
<rect x="1056" y="313" width="3" height="26" fill="#0c3299"/>
<rect x="1065" y="293" width="1" height="16" fill="#2962ff"/>
<rect x="1065" y="313" width="1" height="6" fill="#2962ff"/>
<rect x="1063" y="309" width="5" height="4" fill="#2962ff"/>
<rect x="1064" y="310" width="3" height="2" fill="#0c3299"/>
<rect x="1072" y="310" width="1" height="21" fill="#2962ff"/>
<rect x="1070" y="292" width="5" height="18" fill="#2962ff"/>
<rect x="1071" y="293" width="3" height="16" fill="#0c3299"/>
<rect x="1080" y="270" width="1" height="19" fill="#2962ff"/>
<rect x="1080" y="293" width="1" height="16" fill="#2962ff"/>
<rect x="1078" y="289" width="5" height="4" fill="#2962ff"/>
<rect x="1079" y="290" width="3" height="2" fill="#0c3299"/>
<rect x="1088" y="243" width="1" height="12" fill="#2962ff"/>
<rect x="1086" y="255" width="5" height="35" fill="#2962ff"/>
<rect x="1087" y="256" width="3" height="33" fill="#0c3299"/>
<rect x="1095" y="256" width="1" height="1" fill="#2962ff"/>
<rect x="1093" y="225" width="5" height="31" fill="#2962ff"/>
<rect x="1094" y="226" width="3" height="29" fill="#0c3299"/>
<rect x="1103" y="217" width="1" height="8" fill="#673ab7"/>
<rect x="1103" y="234" width="1" height="7" fill="#673ab7"/>
<rect x="1101" y="225" width="5" height="9" fill="#673ab7"/>
<rect x="1102" y="226" width="3" height="7" fill="#ffffff"/>
<rect x="1111" y="207" width="1" height="26" fill="#673ab7"/>
<rect x="1109" y="233" width="5" height="23" fill="#673ab7"/>
<rect x="1110" y="234" width="3" height="21" fill="#ffffff"/>
<rect x="1118" y="242" width="1" height="13" fill="#673ab7"/>
<rect x="1118" y="285" width="1" height="2" fill="#673ab7"/>
<rect x="1116" y="255" width="5" height="30" fill="#673ab7"/>
<rect x="1117" y="256" width="3" height="28" fill="#ffffff"/>
<rect x="1126" y="269" width="1" height="15" fill="#673ab7"/>
<rect x="1124" y="284" width="5" height="28" fill="#673ab7"/>
<rect x="1125" y="285" width="3" height="26" fill="#ffffff"/>
<rect x="1133" y="262" width="1" height="10" fill="#2962ff"/>
<rect x="1131" y="272" width="5" height="40" fill="#2962ff"/>
<rect x="1132" y="273" width="3" height="38" fill="#0c3299"/>
<rect x="1141" y="260" width="1" height="12" fill="#673ab7"/>
<rect x="1141" y="280" width="1" height="19" fill="#673ab7"/>
<rect x="1139" y="272" width="5" height="8" fill="#673ab7"/>
<rect x="1140" y="273" width="3" height="6" fill="#ffffff"/>
<rect x="1149" y="256" width="1" height="3" fill="#2962ff"/>
<rect x="1149" y="280" width="1" height="4" fill="#2962ff"/>
<rect x="1147" y="259" width="5" height="21" fill="#2962ff"/>
<rect x="1148" y="260" width="3" height="19" fill="#0c3299"/>
<rect x="1156" y="242" width="1" height="8" fill="#2962ff"/>
<rect x="1156" y="260" width="1" height="2" fill="#2962ff"/>
<rect x="1154" y="250" width="5" height="10" fill="#2962ff"/>
<rect x="1155" y="251" width="3" height="8" fill="#0c3299"/>
<rect x="1164" y="224" width="1" height="5" fill="#2962ff"/>
<rect x="1164" y="251" width="1" height="18" fill="#2962ff"/>
<rect x="1162" y="229" width="5" height="22" fill="#2962ff"/>
<rect x="1163" y="230" width="3" height="20" fill="#0c3299"/>
</g>
<g class="ax">
<text x="1468.4" y="26.9">152.500</text>
<text x="1468.4" y="58.6">150.000</text>
<text x="1468.4" y="90.2">147.500</text>
<text x="1468.4" y="121.8">145.000</text>
<text x="1468.4" y="153.4">142.500</text>
<text x="1468.4" y="279.8">132.500</text>
<text x="1468.4" y="343.0">127.500</text>
<text x="1468.4" y="374.6">125.000</text>
<text x="1468.4" y="406.2">122.500</text>
<text x="1468.4" y="437.8">120.000</text>
<text x="1468.4" y="469.5">117.500</text>
<text x="1468.4" y="501.1">115.000</text>
<text x="1468.4" y="532.7">112.500</text>
<text x="1468.4" y="564.3">110.000</text>
<text x="1468.4" y="595.9">107.500</text>
<text x="1468.4" y="627.5">105.000</text>
<text x="1468.4" y="659.1">102.500</text>
<text x="1468.4" y="690.7">100.000</text>
</g>
<rect x="1461" y="689" width="57" height="26" fill="#fff"/>
<g class="fb" text-anchor="end">
<text x="1451.5" y="23.7">0(151.946)</text>
<text x="1451.5" y="112.7">0.144(144.839)</text>
<text x="1451.5" y="170.7">0.236(140.299)</text>
<text x="1451.5" y="261.7">0.382(133.094)</text>
<text x="1451.5" y="335.7">0.5(127.271)</text>
<text x="1451.5" y="408.7">0.618(121.447)</text>
<text x="1451.5" y="499.7">0.764(114.242)</text>
<text x="1451.5" y="575.7">0.886(108.221)</text>
<text x="1451.5" y="646.7">1(102.595)</text>
</g>
<rect x="1460" y="173" width="56" height="17" rx="2" ry="2" fill="#2962ff"/>
<text class="bx" x="1469" y="186">140.000</text>
<rect x="1460" y="202" width="56" height="17" rx="2" ry="2" fill="#f23645"/>
<text class="bx" x="1469" y="215">137.676</text>
<rect x="1460" y="236" width="56" height="17" rx="2" ry="2" fill="#f23645"/>
<text class="bx" x="1469" y="249">135.000</text>
<rect x="1460" y="299" width="56" height="17" rx="2" ry="2" fill="#801922"/>
<text class="bx" x="1469" y="312">130.000</text>
<text class="tm" text-anchor="middle" x="48.5" y="706.8">Jul</text>
<text class="tm" text-anchor="middle" x="148" y="706.8">Oct</text>
<text class="tb" text-anchor="middle" x="247" y="706.8">2021</text>
<text class="tm" text-anchor="middle" x="346.5" y="706.8">Apr</text>
<text class="tm" text-anchor="middle" x="445.5" y="706.8">Jul</text>
<text class="tm" text-anchor="middle" x="544" y="706.8">Oct</text>
<text class="tb" text-anchor="middle" x="643.5" y="706.8">2022</text>
<text class="tm" text-anchor="middle" x="743" y="706.8">Apr</text>
<text class="tm" text-anchor="middle" x="843.5" y="706.8">Jul</text>
<text class="tm" text-anchor="middle" x="942" y="706.8">Oct</text>
<text class="tb" text-anchor="middle" x="1041.5" y="706.8">2023</text>
<text class="tm" text-anchor="middle" x="1140.5" y="706.8">Apr</text>
<text class="tm" text-anchor="middle" x="1240" y="706.8">Jul</text>
<text class="tm" text-anchor="middle" x="1339" y="706.8">Oct</text>
<text class="tb" text-anchor="middle" x="1438.5" y="706.8">2024</text>
<g stroke="#131722" stroke-width="1.2" fill="none"><circle cx="1490.5" cy="703.4" r="4.9"/>
<line x1="1495.80" y1="703.40" x2="1498.00" y2="703.40"/>
<line x1="1494.25" y1="707.15" x2="1495.66" y2="708.56"/>
<line x1="1490.50" y1="708.70" x2="1490.50" y2="710.90"/>
<line x1="1486.75" y1="707.15" x2="1485.34" y2="708.56"/>
<line x1="1485.20" y1="703.40" x2="1483.00" y2="703.40"/>
<line x1="1486.75" y1="699.65" x2="1485.34" y2="698.24"/>
<line x1="1490.50" y1="698.10" x2="1490.50" y2="695.90"/>
<line x1="1494.25" y1="699.65" x2="1495.66" y2="698.24"/>
</g>
<text x="3.40" y="16.8" font-size="14.6" fill="#131722" letter-spacing="0.059">U.S.</text>
<text x="38.60" y="16.8" font-size="14.6" fill="#131722" letter-spacing="0.559">Dollar</text>
<text x="87.81" y="16.8" font-size="14.6" fill="#131722" letter-spacing="0.000">/</text>
<text x="98.50" y="16.8" font-size="14.6" fill="#131722" letter-spacing="0.148">Japanese</text>
<text x="169.50" y="16.8" font-size="14.6" fill="#131722" letter-spacing="-0.587">Yen</text>
<text x="196.79" y="16.8" font-size="14.6" fill="#131722" letter-spacing="0.000">·</text>
<text x="207.00" y="16.8" font-size="14.6" fill="#131722" letter-spacing="-1.846">1W</text>
<text x="230.89" y="16.8" font-size="14.6" fill="#131722" letter-spacing="0.000">·</text>
<text x="240.60" y="16.8" font-size="14.6" fill="#131722" letter-spacing="-0.226">FOREX.com</text>
<text x="2.80" y="39.5" font-size="11.2" fill="#b2b5be" letter-spacing="0.600">MA</text>
<text x="24.10" y="39.5" font-size="11.2" fill="#b2b5be" letter-spacing="0.148">200</text>
<text x="48.70" y="39.5" font-size="11.2" fill="#b2b5be" letter-spacing="0.626">close</text>
<text x="82.26" y="39.5" font-size="11.2" fill="#b2b5be" letter-spacing="0.000">0</text>
<text x="92.90" y="39.5" font-size="11.2" fill="#b2b5be" letter-spacing="-0.952">SMA</text>
<text x="118.96" y="39.5" font-size="11.2" fill="#b2b5be" letter-spacing="0.000">5</text>
<g stroke="#131722" stroke-width="1.2" fill="none"><path d="M136.2,34.8 C138.6,30.6 141.4,29.3 144,29.3 C146.6,29.3 149.4,30.6 151.8,34.8 C149.4,39.0 146.6,40.3 144,40.3 C141.4,40.3 138.6,39.0 136.2,34.8 Z"/><line x1="138.2" y1="40.8" x2="149.8" y2="28.9" stroke="#fff" stroke-width="4.6"/><circle cx="144" cy="34.8" r="2.7"/><line x1="138.2" y1="40.8" x2="149.8" y2="28.9" stroke-width="1.3"/></g>
<g transform="translate(6,656.67) scale(0.8333)" fill="#131722"><path d="M14 22H7V11H0V4h14v18z"/><path d="M28 22h-8l7.5-18h8L28 22z"/><circle cx="20.5" cy="7.6" r="3.6"/></g>
</svg>
</body></html>
